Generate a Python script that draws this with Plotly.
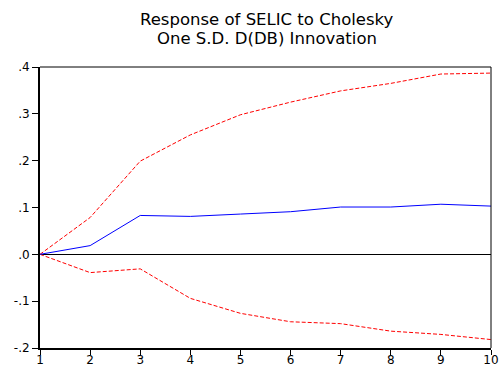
import plotly.graph_objects as go

periods = [1, 2, 3, 4, 5, 6, 7, 8, 9, 10]
response = [0.0, 0.0186, 0.083, 0.081, 0.086, 0.091, 0.101, 0.101, 0.107, 0.103]
upper = [0.0, 0.0786, 0.199, 0.255, 0.298, 0.325, 0.349, 0.365, 0.385, 0.387]
lower = [0.0, -0.039, -0.031, -0.094, -0.126, -0.144, -0.148, -0.164, -0.171, -0.182]
ytick_vals = [0.4, 0.3, 0.2, 0.1, 0.0, -0.1, -0.2]
ytick_text = [".4", ".3", ".2", ".1", ".0", "-.1", "-.2"]
title_lines = ["Response of SELIC to Cholesky", "One S.D. D(DB) Innovation"]

fig = go.Figure()
fig.add_trace(go.Scatter(x=periods, y=upper, mode="lines",
                         line=dict(color="#ff0000", width=1, dash="4px,2px")))
fig.add_trace(go.Scatter(x=periods, y=lower, mode="lines",
                         line=dict(color="#ff0000", width=1, dash="4px,2px")))
fig.add_trace(go.Scatter(x=periods, y=response, mode="lines",
                         line=dict(color="#0000ff", width=1)))

font = "DejaVu Sans, Arial, sans-serif"
H = 367
top_m, bot_m = 67, 19
plot_h = H - top_m - bot_m
title_centers_px = [20, 38.5]

fig.update_layout(
    width=500, height=H,
    margin=dict(l=40, r=9, t=top_m, b=bot_m, autoexpand=False),
    paper_bgcolor="white", plot_bgcolor="white",
    showlegend=False,
    font=dict(family=font, size=12, color="black"),
    xaxis=dict(range=[1, 10], tickvals=periods, ticks="outside", ticklen=5,
               tickwidth=1, tickcolor="black", showgrid=False, zeroline=False,
               showline=True, linecolor="black", linewidth=2, automargin=False,
               ticklabelstandoff=-5,
               tickfont=dict(size=12), fixedrange=True),
    yaxis=dict(range=[-0.2, 0.4], tickvals=ytick_vals, ticktext=ytick_text,
               ticks="outside", ticklen=6, tickwidth=1, tickcolor="black",
               showgrid=False, zeroline=True, zerolinecolor="black", zerolinewidth=1,
               showline=True, linecolor="black", linewidth=2, automargin=False,
               tickfont=dict(size=12), fixedrange=True),
)
for txt, cy in zip(title_lines, title_centers_px):
    fig.add_annotation(text=txt, xref="paper", yref="paper",
                       x=(266.5 - 40) / (500 - 40 - 9), y=(H - bot_m - cy) / plot_h,
                       xanchor="center", yanchor="middle", showarrow=False,
                       font=dict(size=16.5, family=font, color="black"))
# thin top and right frame lines
fig.add_shape(type="line", xref="paper", yref="paper", x0=0, x1=1, y0=1, y1=1,
              line=dict(color="black", width=1))
fig.add_shape(type="line", xref="paper", yref="paper", x0=1, x1=1, y0=0, y1=1,
              line=dict(color="black", width=1))

fig.write_html("out.html")
